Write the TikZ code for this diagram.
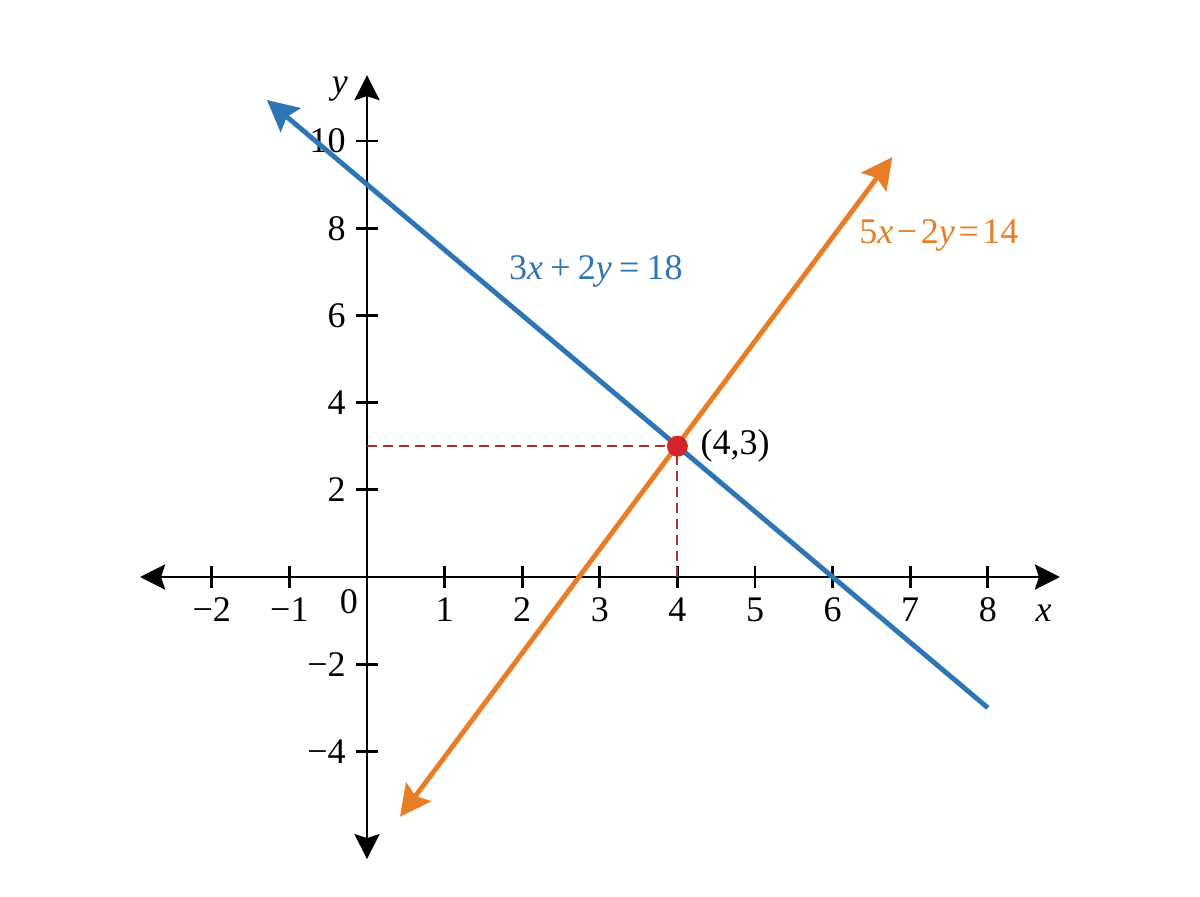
\documentclass[tikz,border=0pt]{standalone}
\usepackage{fontspec}
\setmainfont{Liberation Serif}
\usetikzlibrary{arrows.meta, positioning}
\definecolor{lineblue}{RGB}{46,117,182}
\definecolor{lineorange}{RGB}{232,125,38}
\definecolor{dotred}{RGB}{212,36,44}
\definecolor{guidered}{RGB}{178,44,48}
\tikzset{
    x=1.552cm, y=0.872cm, % one unit on each axis
    >={Stealth[length=0.5cm, width=0.5cm, inset=0.08cm]}, % arrow heads of the axes
    linetip/.tip={Stealth[length=0.62cm, width=0.62cm, inset=0.1cm]}, % arrow heads of the lines
    axis/.style={line width=1.6pt, black, <->}, % the two axes
    tickmark/.style={line width=1.5pt, black}, % small ticks on the axes
    ticklabel/.style={inner sep=0pt, font=\fontsize{20.5pt}{24pt}\selectfont}, % numbers and names
    graphline/.style={line width=2.8pt}, % the two lines
    guide/.style={guidered, line width=1.2pt, dash pattern=on 0.2cm off 0.12cm}, % dashed helper lines
    dot/.style={circle, fill=dotred, inner sep=0pt, minimum size=0.42cm}, % the crossing point
    node distance=0.24cm,
}
\begin{document}
\begin{tikzpicture}
    \useasboundingbox (-7.34cm,-6.38cm) rectangle (16.66cm,11.54cm);
    \coordinate (O) at (0,0);
    \coordinate (xmin) at (-2.925,0);
    \coordinate (xmax) at (8.93,0);
    \coordinate (ymin) at (0,-6.47);
    \coordinate (ymax) at (0,11.51);
    \draw[axis] (xmin) -- (xmax);
    \draw[axis] (ymin) -- (ymax);
    \foreach \i/\t in {-2/−2, -1/−1, 1/1, 2/2, 3/3, 4/4, 5/5, 6/6, 7/7, 8/8} {
        \draw[tickmark] ([yshift=-0.22cm]\i,0) -- ([yshift=0.22cm]\i,0);
        \node[ticklabel] (xl\i) at ([yshift=-0.66cm]\i,0) {\t};
    }
    \foreach \i/\t in {-4/−4, -2/−2, 2/2, 4/4, 6/6, 8/8, 10/10} {
        \draw[tickmark] ([xshift=-0.22cm]0,\i) -- ([xshift=0.22cm]0,\i);
        \node[ticklabel, anchor=east] (yl\i) at ([xshift=-0.42cm]0,\i) {\t};
    }
    \node[ticklabel] (zero) at ([shift={(-0.36cm,-0.5cm)}]O) {0};
    \node[ticklabel] (xname) at ([yshift=-0.72cm]8.72,0) {\textit{x}};
    \node[ticklabel] (yname) at ([xshift=-0.54cm]0,11.2) {\textit{y}};
    % helper lines to the crossing point
    \coordinate (P) at (4,3);
    \coordinate (Py) at (0,3);
    \coordinate (Px) at (4,0);
    \draw[guide] (Py) -- (P);
    \draw[guide] (Px) -- (P);
    % the two lines
    \coordinate (b1) at (8,-3);
    \coordinate (b2) at (-1.29,10.94);
    \coordinate (o1) at (0.425,-5.5);
    \coordinate (o2) at (6.77,9.63);
    \draw[graphline, lineblue, -linetip] (b1) -- (b2);
    \draw[graphline, lineorange, linetip-linetip] (o1) -- (o2);
    \node[dot] (cross) at (P) {};
    \node[ticklabel, right=of cross] (crosslabel) {(4,3)};
    \node[ticklabel, lineblue] (bluelabel) at (2.95,7.0) {3\textit{x}\kern0.2em+\kern0.2em2\textit{y}\kern0.2em=\kern0.2em18};
    \node[ticklabel, lineorange] (orangelabel) at (7.37,7.84) {5\textit{x}\kern0.1em−\kern0.1em2\textit{y}\kern0.1em=\kern0.1em14};
\end{tikzpicture}
\end{document}
